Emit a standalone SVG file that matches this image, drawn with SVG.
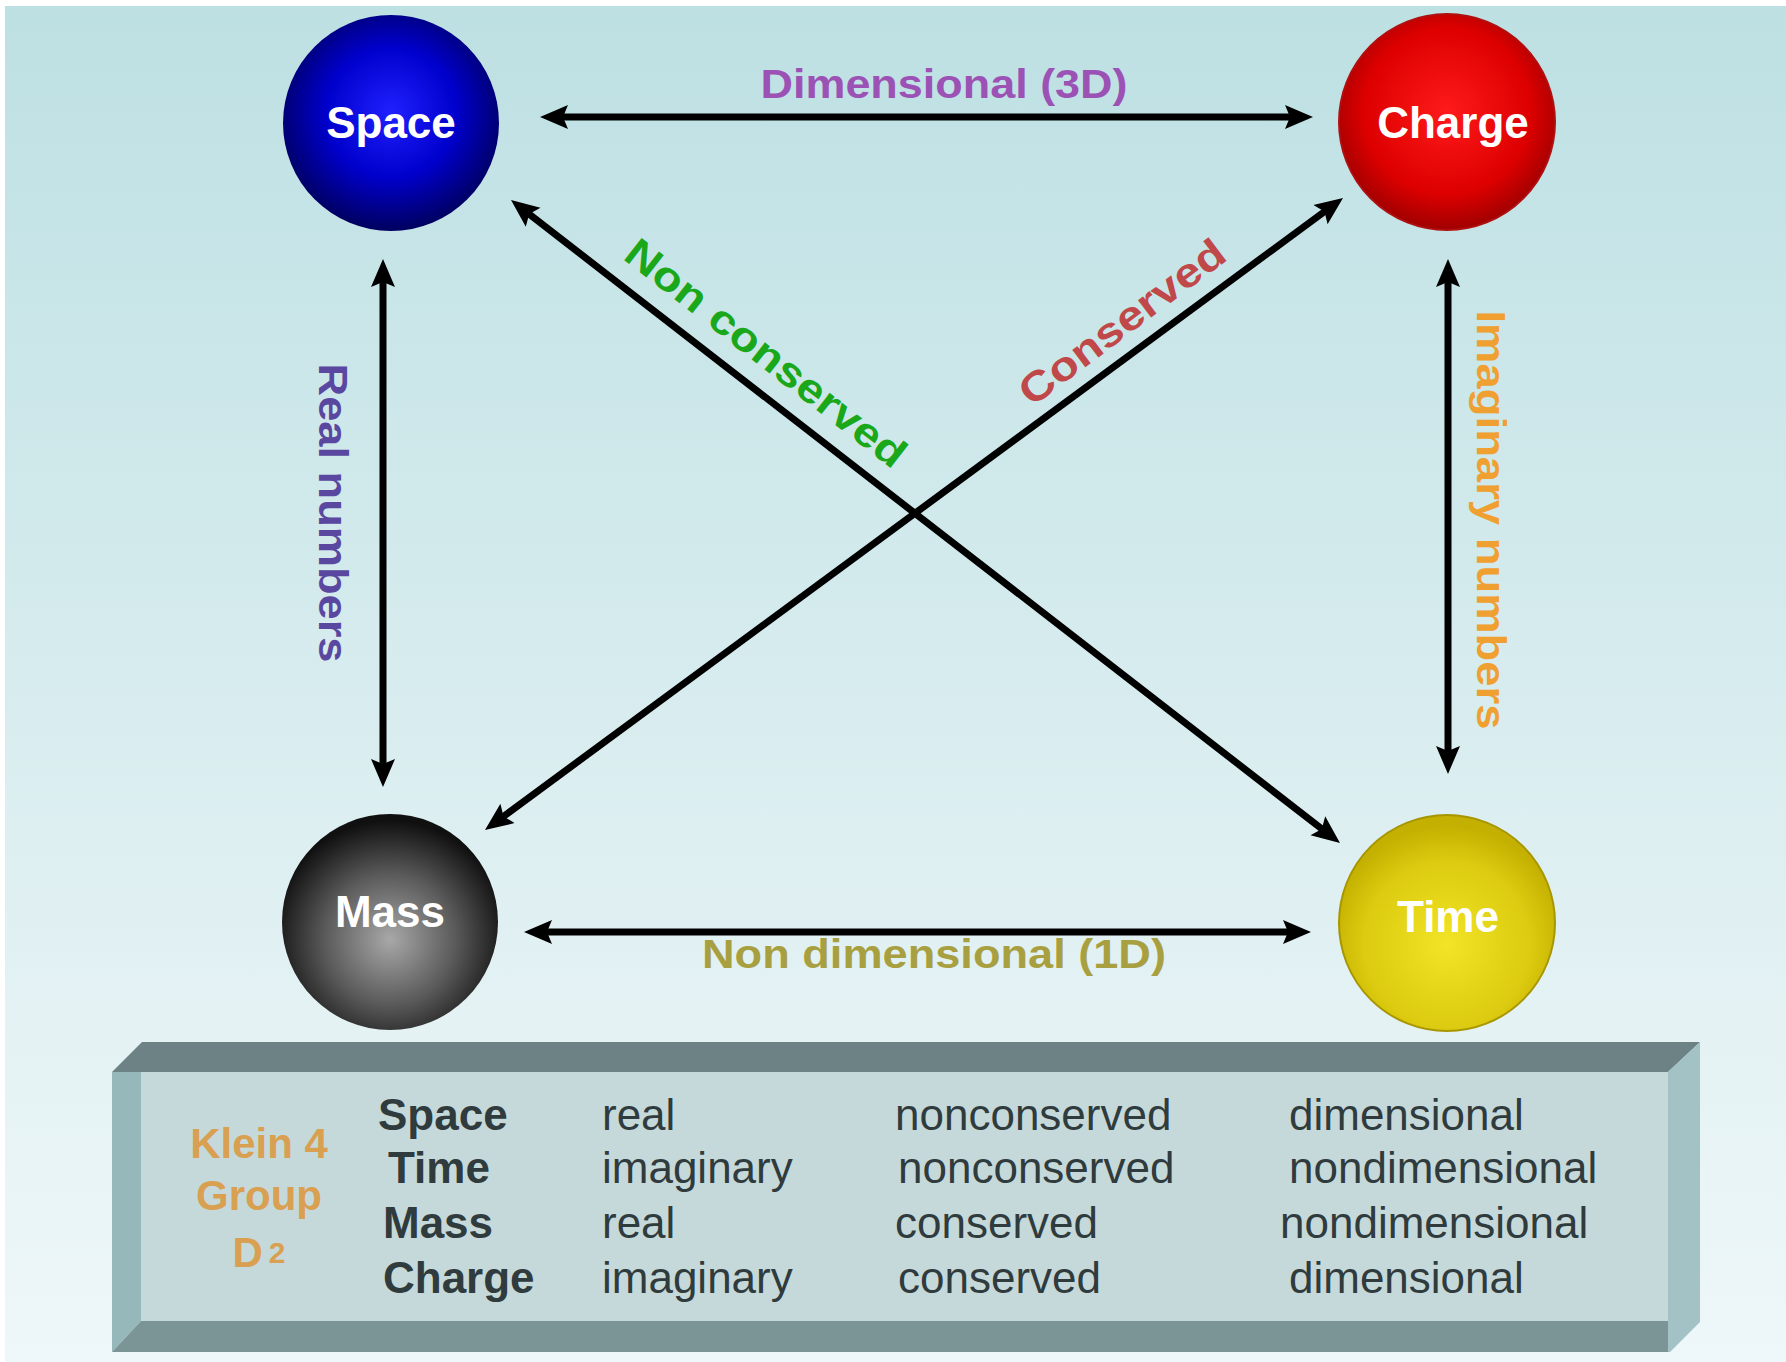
<svg xmlns="http://www.w3.org/2000/svg" width="1786" height="1362" viewBox="0 0 1786 1362">
<style>
.node-label{font-family:"Liberation Sans",Arial,sans-serif;font-weight:bold;font-size:44px;fill:#ffffff;text-anchor:middle}
.edge-label{font-family:"Liberation Sans",Arial,sans-serif;font-weight:bold;font-size:41px;text-anchor:middle}
.conn{stroke:#000;stroke-width:7;fill:none;marker-start:url(#ah);marker-end:url(#ah)}
.tb{font-family:"Liberation Sans",Arial,sans-serif;font-size:44px;fill:#303b3d}
.tb-b{font-weight:bold}
.klein{font-family:"Liberation Sans",Arial,sans-serif;font-weight:bold;font-size:42px;fill:#d8a050;text-anchor:middle}
</style>
<defs>
<linearGradient id="bg" x1="0" y1="0" x2="0" y2="1">
<stop offset="0" stop-color="#bde0e3"/>
<stop offset="0.75" stop-color="#e4f2f4"/>
<stop offset="1" stop-color="#eef7f9"/>
</linearGradient>
<radialGradient id="gSpace" cx="0.5" cy="0.45" r="0.55">
<stop offset="0" stop-color="#2020ff"/>
<stop offset="0.55" stop-color="#0000cc"/>
<stop offset="1" stop-color="#000060"/>
</radialGradient>
<radialGradient id="gCharge" cx="0.5" cy="0.45" r="0.55">
<stop offset="0" stop-color="#ff1a1a"/>
<stop offset="0.7" stop-color="#dd0000"/>
<stop offset="1" stop-color="#a00000"/>
</radialGradient>
<radialGradient id="gMass" cx="0.5" cy="0.58" r="0.55">
<stop offset="0" stop-color="#a8a8a8"/>
<stop offset="0.55" stop-color="#5a5a5a"/>
<stop offset="1" stop-color="#101010"/>
</radialGradient>
<radialGradient id="gTime" cx="0.5" cy="0.6" r="0.55">
<stop offset="0" stop-color="#f2e426"/>
<stop offset="0.7" stop-color="#dccb10"/>
<stop offset="1" stop-color="#c4b000"/>
</radialGradient>
<marker id="ah" markerUnits="userSpaceOnUse" markerWidth="28" markerHeight="26" viewBox="0 0 28 26" refX="6" refY="13" orient="auto-start-reverse">
<path d="M0,1 L28,13 L0,25 L5,13 Z" fill="#000"/>
</marker>
</defs>
<rect x="0" y="0" width="1786" height="1362" fill="url(#bg)"/>
<rect x="0" y="0" width="1786" height="6" fill="#ffffff"/>
<rect x="0" y="0" width="5" height="1362" fill="#ffffff"/>

<g id="connectors">
<line class="conn" x1="562" y1="117" x2="1291" y2="117"/>
<line class="conn" x1="546" y1="932" x2="1289" y2="932"/>
<line class="conn" x1="383" y1="281" x2="383" y2="765"/>
<line class="conn" x1="1448" y1="281" x2="1448" y2="752"/>
<line class="conn" x1="528.4" y1="213.5" x2="1322.6" y2="829.5"/>
<line class="conn" x1="502.7" y1="817.0" x2="1325.3" y2="211.0"/>
<text class="edge-label" x="944" y="98" fill="#9c52b4" textLength="367" lengthAdjust="spacingAndGlyphs">Dimensional (3D)</text>
<text class="edge-label" x="934" y="968" fill="#a8a040" textLength="464" lengthAdjust="spacingAndGlyphs">Non dimensional (1D)</text>
<text class="edge-label" transform="translate(319,513) rotate(90)" fill="#5a48a0" textLength="299" lengthAdjust="spacingAndGlyphs">Real numbers</text>
<text class="edge-label" transform="translate(1477,520) rotate(90)" fill="#f0a030" textLength="419" lengthAdjust="spacingAndGlyphs">Imaginary numbers</text>
<text class="edge-label" transform="translate(766,353) rotate(38)" dominant-baseline="central" fill="#1aa81a" textLength="344" lengthAdjust="spacingAndGlyphs">Non conserved</text>
<text class="edge-label" transform="translate(1122,322) rotate(-37)" dominant-baseline="central" fill="#c04848" textLength="247" lengthAdjust="spacingAndGlyphs">Conserved</text>
</g>

<g id="node-space">
<circle cx="391" cy="123" r="108" fill="url(#gSpace)"/>
<text class="node-label" x="391" y="138">Space</text>
</g>
<g id="node-charge">
<circle cx="1447" cy="122" r="108" fill="url(#gCharge)" stroke="#b01010" stroke-width="2"/>
<text class="node-label" x="1453" y="138">Charge</text>
</g>
<g id="node-mass">
<circle cx="390" cy="922" r="108" fill="url(#gMass)"/>
<text class="node-label" x="390" y="927">Mass</text>
</g>
<g id="node-time">
<circle cx="1447" cy="923" r="108" fill="url(#gTime)" stroke="#a89600" stroke-width="2"/>
<text class="node-label" x="1448" y="932">Time</text>
</g>

<g id="table">
<polygon points="142,1042 1700,1042 1668,1072 112,1072" fill="#6c8284"/>
<polygon points="112,1072 141,1072 141,1321 112,1352" fill="#96b8bb"/>
<polygon points="112,1352 141,1321 1668,1321 1668,1352" fill="#7b9496"/>
<polygon points="1668,1072 1700,1042 1700,1322 1670,1352 1668,1352" fill="#a2c2c6"/>
<rect x="141" y="1072" width="1527" height="249" fill="#c6d9da"/>
<text class="klein" x="259" y="1158">Klein 4</text>
<text class="klein" x="259" y="1210" fill="#d6a866">Group</text>
<text class="klein" x="259" y="1267">D<tspan font-size="30" dx="6" dy="-4">2</tspan></text>
<text class="tb tb-b" x="378" y="1130">Space</text>
<text class="tb tb-b" x="388" y="1183">Time</text>
<text class="tb tb-b" x="383" y="1238">Mass</text>
<text class="tb tb-b" x="383" y="1293">Charge</text>
<text class="tb" x="602" y="1130">real</text>
<text class="tb" x="602" y="1183">imaginary</text>
<text class="tb" x="602" y="1238">real</text>
<text class="tb" x="602" y="1293">imaginary</text>
<text class="tb" x="895" y="1130">nonconserved</text>
<text class="tb" x="898" y="1183">nonconserved</text>
<text class="tb" x="895" y="1238">conserved</text>
<text class="tb" x="898" y="1293">conserved</text>
<text class="tb" x="1289" y="1130">dimensional</text>
<text class="tb" x="1289" y="1183">nondimensional</text>
<text class="tb" x="1280" y="1238">nondimensional</text>
<text class="tb" x="1289" y="1293">dimensional</text>
</g>
</svg>
